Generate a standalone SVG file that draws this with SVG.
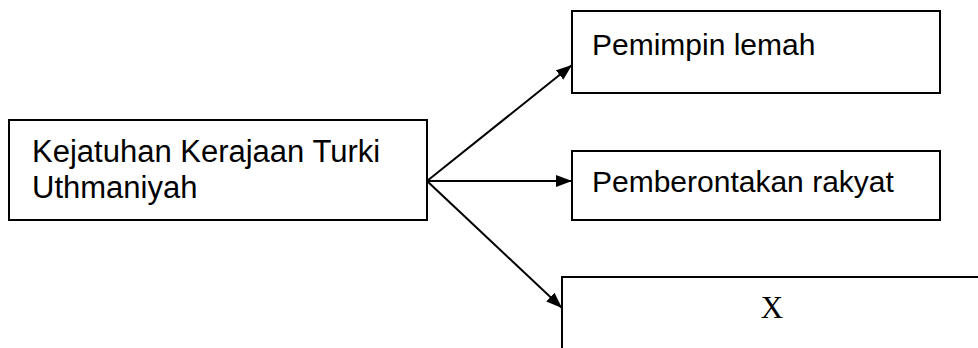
<svg xmlns="http://www.w3.org/2000/svg" width="978" height="348" viewBox="0 0 978 348">
<style>
.box{fill:#fff;stroke:#000;stroke-width:2}
.t{font-family:"Liberation Sans",Arial,sans-serif;font-size:30px;fill:#000}
.x{font-family:"Liberation Serif","Times New Roman",serif;font-size:31px;fill:#000}
.c{stroke:#000;stroke-width:2;fill:none}
</style>
<defs>
<marker id="ah" markerUnits="userSpaceOnUse" markerWidth="18" markerHeight="14" refX="16" refY="6" orient="auto">
<path d="M0,0 L16,6 L0,12 Z" fill="#000"/>
</marker>
</defs>
<rect width="978" height="348" fill="#fff"/>
<g id="connectors">
<line class="c" x1="427" y1="181" x2="572" y2="65" marker-end="url(#ah)"/>
<line class="c" x1="427" y1="181" x2="572" y2="181" marker-end="url(#ah)"/>
<line class="c" x1="427" y1="181" x2="562" y2="308" marker-end="url(#ah)"/>
</g>
<g id="n-kejatuhan">
<rect class="box" x="9" y="120" width="418" height="100"/>
<text class="t" x="32" y="162" style="font-size:31px">Kejatuhan Kerajaan Turki</text>
<text class="t" x="32" y="198" style="font-size:31px">Uthmaniyah</text>
</g>
<g id="n-pemimpin">
<rect class="box" x="572" y="11" width="368" height="82"/>
<text class="t" x="592" y="55">Pemimpin lemah</text>
</g>
<g id="n-pemberontakan">
<rect class="box" x="572" y="151" width="368" height="69"/>
<text class="t" x="592" y="192">Pemberontakan rakyat</text>
</g>
<g id="n-x">
<rect class="box" x="562" y="277" width="430" height="90"/>
<text class="x" x="772" y="318" text-anchor="middle">X</text>
</g>
</svg>
